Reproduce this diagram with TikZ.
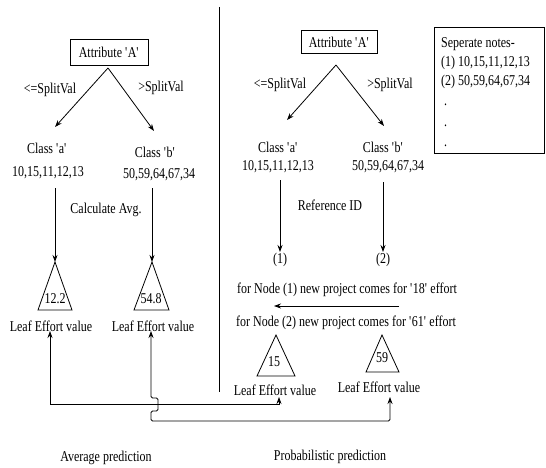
\documentclass[tikz,border=0pt]{standalone}
\usepackage{fontspec}
\setmainfont{Liberation Serif}[FakeStretch=0.8]
\usetikzlibrary{arrows.meta}
\newcommand{\sq}{\textquotesingle}
\tikzset{
  txt/.style={font=\fontsize{15}{18}\selectfont, inner sep=1pt},
  attrbox/.style={txt, draw, line width=0.8pt, inner sep=0pt},
  arr/.style={line width=0.8pt, -{Stealth[length=7pt,width=5pt]}},
  darr/.style={line width=0.8pt, {Stealth[length=7pt,width=5pt]}-{Stealth[length=7pt,width=5pt]}},
  ln/.style={line width=0.8pt},
  tri/.style={line width=0.8pt},
}
\begin{document}
\begin{tikzpicture}[x=1pt,y=-1pt]
\useasboundingbox (0,0) rectangle (546,468);
% divider
\coordinate (dtop) at (219,7);
\coordinate (dbot) at (219,392);
\draw[ln] (dtop) -- (dbot);

% ---------- left tree ----------
\node[attrbox, minimum width=78pt, minimum height=26pt] (boxL) at (109,52) {Attribute \sq A\sq};
\coordinate (sL) at (108,68);
\coordinate (tLa) at (55,127);
\coordinate (tLb) at (154,131);
\draw[arr] (sL) -- (tLa);
\draw[arr] (sL) -- (tLb);
\node[txt] (leL) at (50,90) {<=SplitVal};
\node[txt] (gtL) at (161,88) {>SplitVal};
\node[txt] (caL) at (47,148) {Class \sq a\sq};
\node[txt] (vaL) at (48,173) {10,15,11,12,13};
\node[txt] (cbL) at (155,152) {Class \sq b\sq};
\node[txt] (vbL) at (159,175) {50,59,64,67,34};
\node[txt] (avg) at (106,210) {Calculate Avg.};
\coordinate (fa) at (55,188);
\coordinate (ta) at (55,262);
\coordinate (fb) at (152,188);
\coordinate (tb) at (152,262);
\draw[arr] (fa) -- (ta);
\draw[arr] (fb) -- (tb);
\draw[tri] (ta) -- (38,310) -- (72,310) -- cycle;
\draw[tri] (tb) -- (134,310) -- (169,310) -- cycle;
\node[txt] (v122) at (55,299) {12.2};
\node[txt] (v548) at (151,299) {54.8};
\node[txt] (leafL1) at (51,326) {Leaf Effort value};
\node[txt] (leafL2) at (153,326) {Leaf Effort value};
\node[txt] (avgpred) at (106,458) {Average prediction};

% ---------- right tree ----------
\node[attrbox, minimum width=76pt, minimum height=23pt] (boxR) at (339,42) {Attribute \sq A\sq};
\coordinate (sR) at (336,65);
\coordinate (tRa) at (287,120);
\coordinate (tRb) at (384,126);
\draw[arr] (sR) -- (tRa);
\draw[arr] (sR) -- (tRb);
\node[txt] (leR) at (280,85) {<=SplitVal};
\node[txt] (gtR) at (390,85) {>SplitVal};
\node[txt] (caR) at (278,147) {Class \sq a\sq};
\node[txt] (vaR) at (278,167) {10,15,11,12,13};
\node[txt] (cbR) at (383,147) {Class \sq b\sq};
\node[txt] (vbR) at (388,167) {50,59,64,67,34};
\node[txt] (refid) at (330,205) {Reference ID};
\node[txt] (n1) at (280,260) {(1)};
\node[txt] (n2) at (383,260) {(2)};
\coordinate (fRa) at (280,180);
\coordinate (fRb) at (383,182);
\draw[arr] (fRa) -- (n1.north);
\draw[arr] (fRb) -- (n2.north);
\node[txt] (for1) at (347,290) {for Node (1) new project comes for \sq 18\sq\ effort};
\node[txt] (for2) at (346,323) {for Node (2) new project comes for \sq 61\sq\ effort};
\coordinate (hs) at (399,306);
\coordinate (he) at (274,306);
\draw[arr] (hs) -- (he);
\coordinate (a15) at (276,335);
\coordinate (a59) at (382,335);
\draw[tri] (a15) -- (257,376) -- (295,376) -- cycle;
\draw[tri] (a59) -- (366,372) -- (399,372) -- cycle;
\node[txt] (v15) at (274,362) {15};
\node[txt] (v59) at (382,358) {59};
\node[txt] (leafR1) at (275,390) {Leaf Effort value};
\node[txt] (leafR2) at (379,387) {Leaf Effort value};
\node[txt] (probpred) at (330,457) {Probabilistic prediction};

% ---------- notes ----------
\node[draw, line width=0.8pt, minimum width=110pt, minimum height=126pt, inner sep=0pt, anchor=north west] (notes) at (434,27) {};
\node[txt, anchor=west] (nt0) at (440,44) {Seperate notes-};
\node[txt, anchor=west] (nt1) at (440,63) {(1) 10,15,11,12,13};
\node[txt, anchor=west] (nt2) at (440,82) {(2) 50,59,64,67,34};
\node[txt, anchor=west] (nd1) at (443,105) {.};
\node[txt, anchor=west] (nd2) at (443,126) {.};
\node[txt, anchor=west] (nd3) at (443,146) {.};

% ---------- bottom connectors ----------
\coordinate (p1) at (50,331);
\coordinate (p2) at (279,397);
\draw[darr] (p1) -- (50,404) -| (p2);
\coordinate (q1) at (151,331);
\coordinate (q2) at (390,397);
\draw[darr, rounded corners=1.5pt] (q1) -- (151,398) -- (158,398) -- (158,411) -- (151,411) -- (151,421) -| (q2);
\end{tikzpicture}
\end{document}
